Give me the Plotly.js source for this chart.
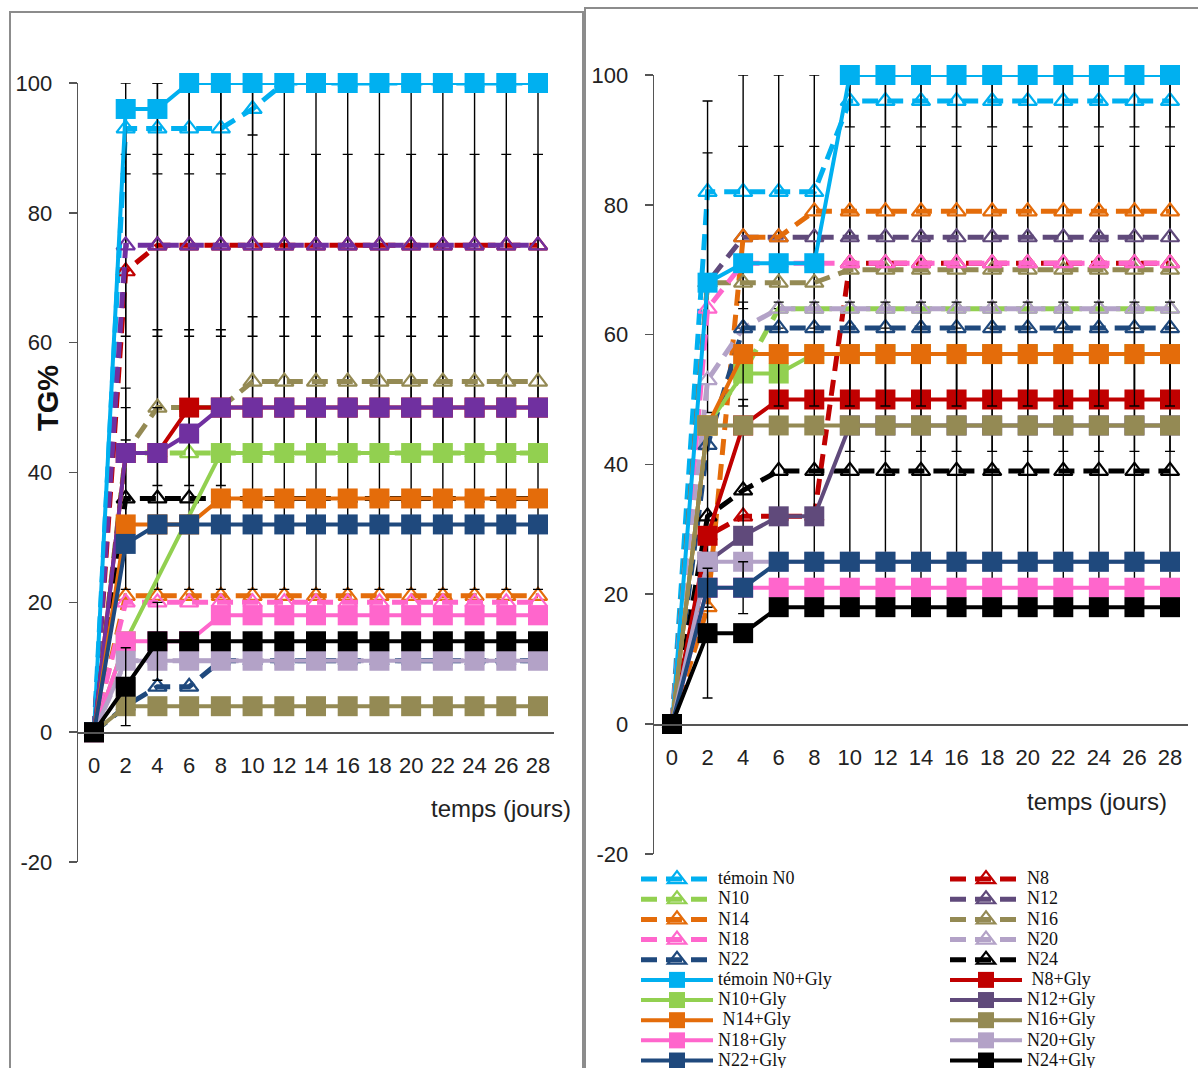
<!DOCTYPE html>
<html><head><meta charset="utf-8">
<script src="https://cdn.plot.ly/plotly-3.0.1.min.js"></script>
<style>html,body{margin:0;padding:0;background:#fff}#chart{width:1198px;height:1068px}</style>
</head><body><div id="chart"></div>
<script>
// ---------- categories / ticks ----------
const days = [0,2,4,6,8,10,12,14,16,18,20,22,24,26,28];
const dayLabels = ['0','2','4','6','8','10','12','14','16','18','20','22','24','26','28'];
const boundaryTicks = [-1,1,3,5,7,9,11,13,15,17,19,21,23,25,27,29];
const yTickVals = [-20,0,20,40,60,80,100];
const yTickText = ['-20','0','20','40','60','80','100'];

// ---------- series names ----------
const namesDashed = ['témoin N0','N8','N10','N12','N14','N16','N18','N20','N22','N24'];
const namesSolid  = ['témoin N0+Gly','\u00a0N8+Gly','N10+Gly','N12+Gly','\u00a0N14+Gly','N16+Gly','N18+Gly','N20+Gly','N22+Gly','N24+Gly'];

// ---------- left panel values (TG%) ----------
const L_N0   = [0,93,93,93,93,96,100,100,100,100,100,100,100,100,100];
const L_N8   = [0,71,75,75,75,75,75,75,75,75,75,75,75,75,75];
const L_N10  = [0,43,43,43,43,43,43,43,43,43,43,43,43,43,43];
const L_N12  = [0,75,75,75,75,75,75,75,75,75,75,75,75,75,75];
const L_N14  = [0,21,21,21,21,21,21,21,21,21,21,21,21,21,21];
const L_N16  = [0,43,50,50,50,54,54,54,54,54,54,54,54,54,54];
const L_N18  = [0,20,20,20,20,20,20,20,20,20,20,20,20,20,20];
const L_N20  = [0,11,11,11,11,11,11,11,11,11,11,11,11,11,11];
const L_N22  = [0,4,7,7,11,11,11,11,11,11,11,11,11,11,11];
const L_N24  = [0,36,36,36,36,36,36,36,36,36,36,36,36,36,36];
const L_N0G  = [0,96,96,100,100,100,100,100,100,100,100,100,100,100,100];
const L_N8G  = [0,43,43,50,50,50,50,50,50,50,50,50,50,50,50];
const L_N10G = [0,14,null,null,43,43,43,43,43,43,43,43,43,43,43];
const L_N12G = [0,43,43,46,50,50,50,50,50,50,50,50,50,50,50];
const L_N14G = [0,32,32,32,36,36,36,36,36,36,36,36,36,36,36];
const L_N16G = [0,4,4,4,4,4,4,4,4,4,4,4,4,4,4];
const L_N18G = [0,14,14,14,18,18,18,18,18,18,18,18,18,18,18];
const L_N20G = [0,11,11,11,11,11,11,11,11,11,11,11,11,11,11];
const L_N22G = [0,29,32,32,32,32,32,32,32,32,32,32,32,32,32];
const L_N24G = [0,7,14,14,14,14,14,14,14,14,14,14,14,14,14];

// ---------- right panel values (TG%) ----------
const R_N0   = [0,82,82,82,82,96,96,96,96,96,96,96,96,96,96];
const R_N8   = [0,29,32,32,32,71,71,71,71,71,71,71,71,71,71];
const R_N10  = [0,46,54,64,64,64,64,64,64,64,64,64,64,64,64];
const R_N12  = [0,68,75,75,75,75,75,75,75,75,75,75,75,75,75];
const R_N14  = [0,18,75,75,79,79,79,79,79,79,79,79,79,79,79];
const R_N16  = [0,68,68,68,68,70,70,70,70,70,70,70,70,70,70];
const R_N18  = [0,64,71,71,71,71,71,71,71,71,71,71,71,71,71];
const R_N20  = [0,53,61,64,64,64,64,64,64,64,64,64,64,64,64];
const R_N22  = [0,43,61,61,61,61,61,61,61,61,61,61,61,61,61];
const R_N24  = [0,32,36,39,39,39,39,39,39,39,39,39,39,39,39];
const R_N0G  = [0,68,71,71,71,100,100,100,100,100,100,100,100,100,100];
const R_N8G  = [0,29,46,50,50,50,50,50,50,50,50,50,50,50,50];
const R_N10G = [0,46,54,54,57,57,57,57,57,57,57,57,57,57,57];
const R_N12G = [0,25,29,32,32,46,46,46,46,46,46,46,46,46,46];
const R_N14G = [0,46,57,57,57,57,57,57,57,57,57,57,57,57,57];
const R_N16G = [0,46,46,46,46,46,46,46,46,46,46,46,46,46,46];
const R_N18G = [0,21,21,21,21,21,21,21,21,21,21,21,21,21,21];
const R_N20G = [0,25,25,25,25,25,25,25,25,25,25,25,25,25,25];
const R_N22G = [0,21,21,25,25,25,25,25,25,25,25,25,25,25,25];
const R_N24G = [0,14,14,18,18,18,18,18,18,18,18,18,18,18,18];

// ---------- error bars (estimated half-widths) ----------
const errL_N0  = [null,7,7,7,7,4,null,null,null,null,null,null,null,null,null];
const errL_N12 = [null,14,14,14,14,14,14,14,14,14,14,14,14,14,14];
const errL_N16 = [null,10,12,12,12,10,10,10,10,10,10,10,10,10,10];
const errL_N24 = [null,14,14,14,14,14,14,14,14,14,14,14,14,14,14];
const errL_N8  = [null,26,25,25,25,25,25,25,25,25,25,25,25,25,25];
const errL_N24G= [null,6,6,null,null,null,null,null,null,null,null,null,null,null,null];
const errR_N0  = [null,14,18,18,18,4,4,4,4,4,4,4,4,4,4];
const errR_N8  = [null,null,null,null,null,29,29,29,29,29,29,29,29,29,29];
const errR_N12 = [null,20,14,14,14,14,14,14,14,14,14,14,14,14,14];
const errR_N24 = [null,14,14,18,18,18,18,18,18,18,18,18,18,18,18];
const errR_N14G= [null,null,8,8,8,8,8,8,8,8,8,8,8,8,8];
const errR_N22G= [null,null,4,null,null,null,null,null,null,null,null,null,null,null,null];
const errR_N24G= [null,10,null,null,null,null,null,null,null,null,null,null,null,null,null];

// ---------- colours ----------
const cLightBlue = '#00B0F0', cRed = '#C00000', cGreen = '#92D050', cPurpleL = '#7030A0',
      cPurpleR = '#604A7B', cOrange = '#E46C0A', cKhaki = '#948A54', cPink = '#FF66CC',
      cLavender = '#B3A2C7', cDarkBlue = '#1F497D', cBlack = '#000000';
const colorsL = [cLightBlue,cRed,cGreen,cPurpleL,cOrange,cKhaki,cPink,cLavender,cDarkBlue,cBlack];
const colorsR = [cLightBlue,cRed,cGreen,cPurpleR,cOrange,cKhaki,cPink,cLavender,cDarkBlue,cBlack];

const L_dashed = [L_N0,L_N8,L_N10,L_N12,L_N14,L_N16,L_N18,L_N20,L_N22,L_N24];
const L_solid  = [L_N0G,L_N8G,L_N10G,L_N12G,L_N14G,L_N16G,L_N18G,L_N20G,L_N22G,L_N24G];
const R_dashed = [R_N0,R_N8,R_N10,R_N12,R_N14,R_N16,R_N18,R_N20,R_N22,R_N24];
const R_solid  = [R_N0G,R_N8G,R_N10G,R_N12G,R_N14G,R_N16G,R_N18G,R_N20G,R_N22G,R_N24G];
const L_errD = [errL_N0,errL_N8,null,errL_N12,null,errL_N16,null,null,null,errL_N24];
const L_errS = [null,null,null,null,null,null,null,null,null,errL_N24G];
const R_errD = [errR_N0,errR_N8,null,errR_N12,null,null,null,null,null,errR_N24];
const R_errS = [null,null,null,null,errR_N14G,null,null,null,errR_N22G,errR_N24G];

function legendLabel(name) {
  return '<span style="font-size:18px">' + name + '</span>';
}

function mk(name, y, color, dashed, xa, ya, legend, show, err) {
  const t = {
    type: 'scatter', mode: 'lines+markers', x: days, y: y, name: show ? legendLabel(name) : name,
    xaxis: xa, yaxis: ya, connectgaps: true, cliponaxis: false,
    line: {color: color, width: dashed ? 5 : 4, dash: dashed ? '16px,9px' : 'solid'},
    marker: dashed
      ? {symbol: 'triangle-up-open', size: 16, color: color, line: {width: 2.2, color: color}}
      : {symbol: 'square', size: 20, color: color, line: {width: 0}},
    showlegend: show, legend: legend, hoverinfo: 'skip'
  };
  if (err) t.error_y = {type: 'data', array: err, visible: true, color: '#000', thickness: 1.4, width: 5};
  return t;
}

const traces = [];
for (let i = 0; i < 10; i++) traces.push(mk(namesDashed[i], L_dashed[i], colorsL[i], true, 'x', 'y', 'legend', false, L_errD[i]));
for (let i = 0; i < 10; i++) traces.push(mk(namesSolid[i], L_solid[i], colorsL[i], false, 'x', 'y', 'legend', false, L_errS[i]));
for (let i = 0; i < 10; i++) traces.push(mk(namesDashed[i], R_dashed[i], colorsR[i], true, 'x2', 'y2', i % 2 === 0 ? 'legend' : 'legend2', true, R_errD[i]));
for (let i = 0; i < 10; i++) traces.push(mk(namesSolid[i], R_solid[i], colorsR[i], false, 'x2', 'y2', i % 2 === 0 ? 'legend' : 'legend2', true, R_errS[i]));

const W = 1198, H = 1068;
const px = v => v / W;
const py = v => 1 - v / H;
const axisColor = '#555555';
const tickFont = {family: 'Liberation Sans, Arial, sans-serif', size: 22, color: '#222'};

function xLabelAxis(domain, pos) {
  return {domain: domain, range: [-1, 29], anchor: 'free', position: pos,
    tickmode: 'array', tickvals: days, ticktext: dayLabels, ticks: 'outside', ticklen: 8,
    tickcolor: 'rgba(0,0,0,0)', ticklabelstandoff: 5, tickfont: tickFont,
    showline: true, linecolor: axisColor, linewidth: 1.5, showgrid: false, zeroline: false, fixedrange: true};
}
function xTickAxis(domain, pos, overlay) {
  return {domain: domain, range: [-1, 29], anchor: 'free', position: pos, overlaying: overlay,
    tickmode: 'array', tickvals: boundaryTicks, ticks: 'outside', ticklen: 8, tickwidth: 1.5,
    tickcolor: axisColor, showticklabels: false, showline: false, showgrid: false, zeroline: false, fixedrange: true};
}
function yAxis(domain, anchor) {
  return {domain: domain, range: [-20, 100], anchor: anchor, tickmode: 'array', tickvals: yTickVals,
    ticktext: yTickText, ticks: 'outside', ticklen: 8, tickwidth: 1.5, tickcolor: axisColor,
    ticklabelstandoff: 12, tickfont: tickFont, showline: true, linecolor: axisColor, linewidth: 1.5,
    showgrid: false, zeroline: false, fixedrange: true};
}

const legendFont = {family: 'Liberation Serif, Times New Roman, serif', size: 13.2, color: '#111'};
const xDomL = [px(78.14), px(553.86)];
const xDomR = [px(654.2), px(1187.8)];
const layout = {
  width: W, height: H,
  margin: {l: 0, r: 0, t: 0, b: 0, autoexpand: false},
  paper_bgcolor: '#ffffff', plot_bgcolor: 'rgba(0,0,0,0)',
  showlegend: true,
  xaxis: xLabelAxis(xDomL, py(732)),
  xaxis3: xTickAxis(xDomL, py(732), 'x'),
  yaxis: yAxis([py(862), py(83)], 'x'),
  xaxis2: xLabelAxis(xDomR, py(724)),
  xaxis4: xTickAxis(xDomR, py(724), 'x2'),
  yaxis2: yAxis([py(853.8), py(75)], 'x2'),
  legend: {x: px(636), y: py(864), xanchor: 'left', yanchor: 'top', orientation: 'v',
    bgcolor: 'rgba(0,0,0,0)', borderwidth: 0, itemwidth: 72, tracegroupgap: 0, font: legendFont},
  legend2: {x: px(945), y: py(864), xanchor: 'left', yanchor: 'top', orientation: 'v',
    bgcolor: 'rgba(0,0,0,0)', borderwidth: 0, itemwidth: 72, tracegroupgap: 0, font: legendFont},
  shapes: [
    {type: 'rect', xref: 'paper', yref: 'paper', x0: px(10), x1: px(583), y0: -0.05, y1: py(12),
     line: {color: '#8c8c8c', width: 2}, fillcolor: 'rgba(0,0,0,0)', layer: 'below'},
    {type: 'rect', xref: 'paper', yref: 'paper', x0: px(585), x1: px(1205), y0: -0.05, y1: py(8),
     line: {color: '#8c8c8c', width: 2}, fillcolor: 'rgba(0,0,0,0)', layer: 'below'}
  ],
  annotations: [
    {text: '<b>TG%</b>', xref: 'paper', yref: 'paper', x: px(48), y: py(398), showarrow: false,
     textangle: -90, xanchor: 'center', yanchor: 'middle',
     font: {family: 'Liberation Sans, Arial, sans-serif', size: 29, color: '#111'}},
    {text: 'temps (jours)', xref: 'paper', yref: 'paper', x: px(501), y: py(808), showarrow: false,
     xanchor: 'center', yanchor: 'middle', font: {family: 'Liberation Sans, Arial, sans-serif', size: 24, color: '#222'}},
    {text: 'temps (jours)', xref: 'paper', yref: 'paper', x: px(1097), y: py(801), showarrow: false,
     xanchor: 'center', yanchor: 'middle', font: {family: 'Liberation Sans, Arial, sans-serif', size: 24, color: '#222'}}
  ]
};

Plotly.newPlot('chart', traces, layout, {displayModeBar: false, staticPlot: true});
</script></body></html>
